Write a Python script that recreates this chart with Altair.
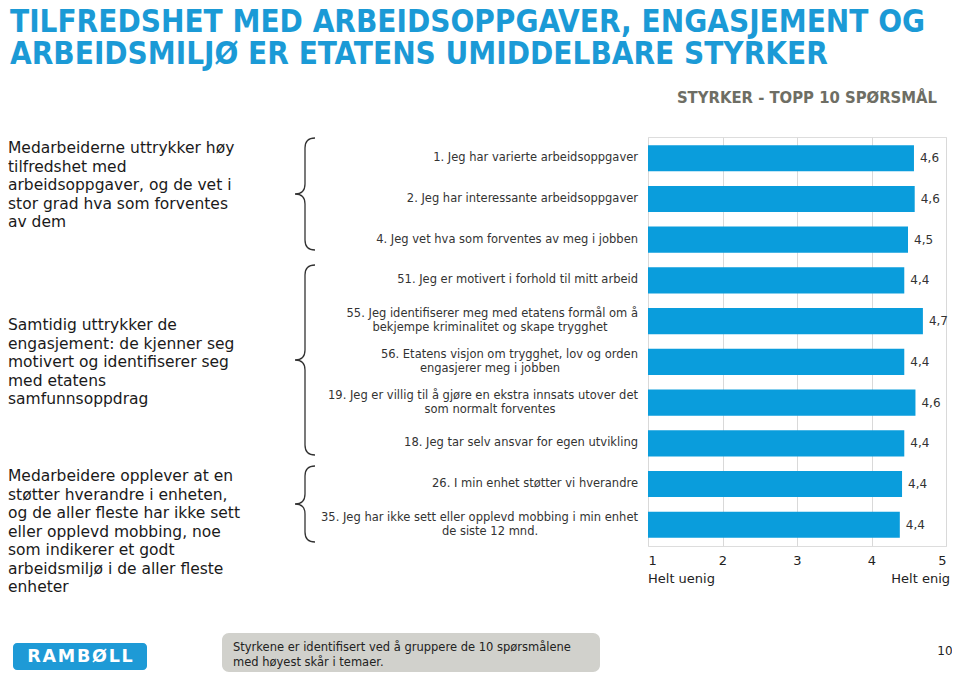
import altair as alt
import pandas as pd

# ---------------- data ----------------
title_lines = ["TILFREDSHET MED ARBEIDSOPPGAVER, ENGASJEMENT OG",
               "ARBEIDSMILJØ ER ETATENS UMIDDELBARE STYRKER"]
subtitle = "STYRKER - TOPP 10 SPØRSMÅL"

q_line1 = [
    "1. Jeg har varierte arbeidsoppgaver",
    "2. Jeg har interessante arbeidsoppgaver",
    "4. Jeg vet hva som forventes av meg i jobben",
    "51. Jeg er motivert i forhold til mitt arbeid",
    "55. Jeg identifiserer meg med etatens formål om å",
    "56. Etatens visjon om trygghet, lov og orden",
    "19. Jeg er villig til å gjøre en ekstra innsats utover det",
    "18. Jeg tar selv ansvar for egen utvikling",
    "26. I min enhet støtter vi hverandre",
    "35. Jeg har ikke sett eller opplevd mobbing i min enhet",
]
q_line2 = [
    "", "", "", "",
    "bekjempe kriminalitet og skape trygghet",
    "engasjerer meg i jobben",
    "som normalt forventes",
    "", "",
    "de siste 12 mnd.",
]
scores = [4.57, 4.58, 4.49, 4.44, 4.69, 4.44, 4.59, 4.44, 4.41, 4.38]

group_texts = [
    "Medarbeiderne uttrykker høy\ntilfredshet med\narbeidsoppgaver, og de vet i\nstor grad hva som forventes\nav dem",
    "Samtidig uttrykker de\nengasjement: de kjenner seg\nmotivert og identifiserer seg\nmed etatens\nsamfunnsoppdrag",
    "Medarbeidere opplever at en\nstøtter hverandre i enheten,\nog de aller fleste har ikke sett\neller opplevd mobbing, noe\nsom indikerer et godt\narbeidsmiljø i de aller fleste\nenheter",
]
tick_values = [1, 2, 3, 4, 5]
scale_ends = ["Helt uenig", "Helt enig"]
footer_note = "Styrkene er identifisert ved å gruppere de 10 spørsmålene\nmed høyest skår i temaer."
logo_text = "R\u200aA\u200aM\u200aB\u200aØ\u200aL\u200aL"
page_no = "10"

df = pd.DataFrame({"l1": q_line1, "l2": q_line2, "v": scores})

FONT = "DejaVu Sans"
COND = "DejaVu Sans Condensed"
BLUE = "#0a9ddc"

y_scale = alt.Scale(paddingInner=0.36, paddingOuter=0.2)
x_scale = alt.Scale(domain=[1, 5], nice=False, zero=False)

base = alt.Chart(df)

bars = base.mark_bar(color=BLUE).encode(
    y=alt.Y("l1:N", sort=None, scale=y_scale,
            axis=alt.Axis(labels=False, ticks=False, title=None, domain=True,
                          domainColor="#7f7f7f", domainWidth=1.5, grid=False)),
    x=alt.X("v:Q", scale=x_scale,
            axis=alt.Axis(values=tick_values, format="d", grid=True, gridColor="#d9d9d9",
                          domain=False, ticks=False, labelFontSize=13, labelColor="#222",
                          labelFont=FONT, labelPadding=8, title=None)),
    x2=alt.datum(1),
)

values_txt = base.mark_text(align="left", baseline="middle", dx=6, fontSize=12,
                            color="#333", font=FONT).transform_calculate(
    lab="replace(format(datum.v, '.1f'), '.', ',')"
).encode(y=alt.Y("l1:N", sort=None, axis=None), x=alt.X("v:Q"), text="lab:N")

LABEL_FS = 11.5

lab_single = base.transform_filter("datum.l2 == ''").mark_text(
    align="right", baseline="middle", fontSize=LABEL_FS, color="#333", font=FONT
).encode(y=alt.Y("l1:N", sort=None, axis=None), x=alt.value(-10), text="l1:N")

lab_first = base.transform_filter("datum.l2 != ''").mark_text(
    align="right", baseline="middle", dy=-7, fontSize=LABEL_FS, color="#333", font=FONT
).encode(y=alt.Y("l1:N", sort=None, axis=None), x=alt.value(-10), text="l1:N")

lab_second = base.transform_filter("datum.l2 != ''").mark_text(
    align="center", baseline="middle", dy=7, fontSize=LABEL_FS, color="#333", font=FONT
).encode(y=alt.Y("l1:N", sort=None, axis=None), x=alt.value(-158), text="l2:N")


def note(text, x, y, **kw):
    return alt.Chart(alt.Data(values=[{"t": text}])).mark_text(lineBreak="\n", **kw).encode(
        x=alt.value(x), y=alt.value(y), text="t:N")


def brace(cx, cy, h):
    r = h / 2.0
    w = 10.0 / r
    k = min(10.0 / r, 0.35)
    path = (f"M{w:.4f},-1 Q0,-1 0,{-1 + k:.4f} L0,{-k:.4f} Q0,0 {-w:.4f},0 "
            f"Q0,0 0,{k:.4f} L0,{1 - k:.4f} Q0,1 {w:.4f},1")
    return alt.Chart(alt.Data(values=[{"t": 1}])).mark_point(
        shape=path, filled=False, strokeWidth=1.3, color="#333", opacity=1
    ).encode(x=alt.value(cx), y=alt.value(cy), size=alt.value(h * h))


def box(x, x2, y, y2, color, radius):
    return alt.Chart(alt.Data(values=[{"t": 1}])).mark_rect(
        color=color, cornerRadius=radius
    ).encode(x=alt.value(x), x2=alt.value(x2), y=alt.value(y), y2=alt.value(y2))


layers = [
    bars, values_txt, lab_single, lab_first, lab_second,
    note("\n".join(title_lines), -638, -105, align="left", baseline="alphabetic",
         fontSize=31.2, lineHeight=32, fontWeight="bold", font=COND, color="#1b9ad6"),
    note(subtitle, 289, -34, align="right", baseline="alphabetic", fontSize=16.5,
         fontWeight="bold", font=COND, color="#6e6e64"),
    note(group_texts[0], -640, 16, align="left", baseline="alphabetic", fontSize=15.5,
         lineHeight=18.5, font=FONT, color="#1a1a1a"),
    note(group_texts[1], -640, 193, align="left", baseline="alphabetic", fontSize=15.5,
         lineHeight=18.5, font=FONT, color="#1a1a1a"),
    note(group_texts[2], -640, 344, align="left", baseline="alphabetic", fontSize=15.5,
         lineHeight=18.5, font=FONT, color="#1a1a1a"),
    brace(-343, 57, 112),
    brace(-343, 223, 190),
    brace(-343, 367, 76),
    note(scale_ends[0], 0, 442, align="left", baseline="middle", fontSize=13,
         font=FONT, color="#222"),
    note(scale_ends[1], 302, 442, align="right", baseline="middle", fontSize=13,
         font=FONT, color="#222"),
    box(-635, -501, 506, 533, "#1e9ad6", 4),
    note(logo_text, -568, 520, align="center", baseline="middle", fontSize=17.5,
         fontWeight="bold", font=FONT, color="white"),
    box(-426, -48, 496, 535, "#d1d1cc", 7),
    note(footer_note, -415, 514, align="left", baseline="alphabetic", fontSize=11.5,
         lineHeight=15, font=FONT, color="#222"),
    note(page_no, 297, 514, align="center", baseline="middle", fontSize=12,
         font=FONT, color="#222"),
]

chart = alt.layer(*layers).properties(
    width=298, height=409,
    padding={"left": 640, "top": 129, "right": 6, "bottom": 126},
    autosize=alt.AutoSizeParams(type="none"),
).configure_view(stroke=None).configure(font=FONT)

chart.save("out.html", embed_options={"renderer": "svg", "actions": False})
